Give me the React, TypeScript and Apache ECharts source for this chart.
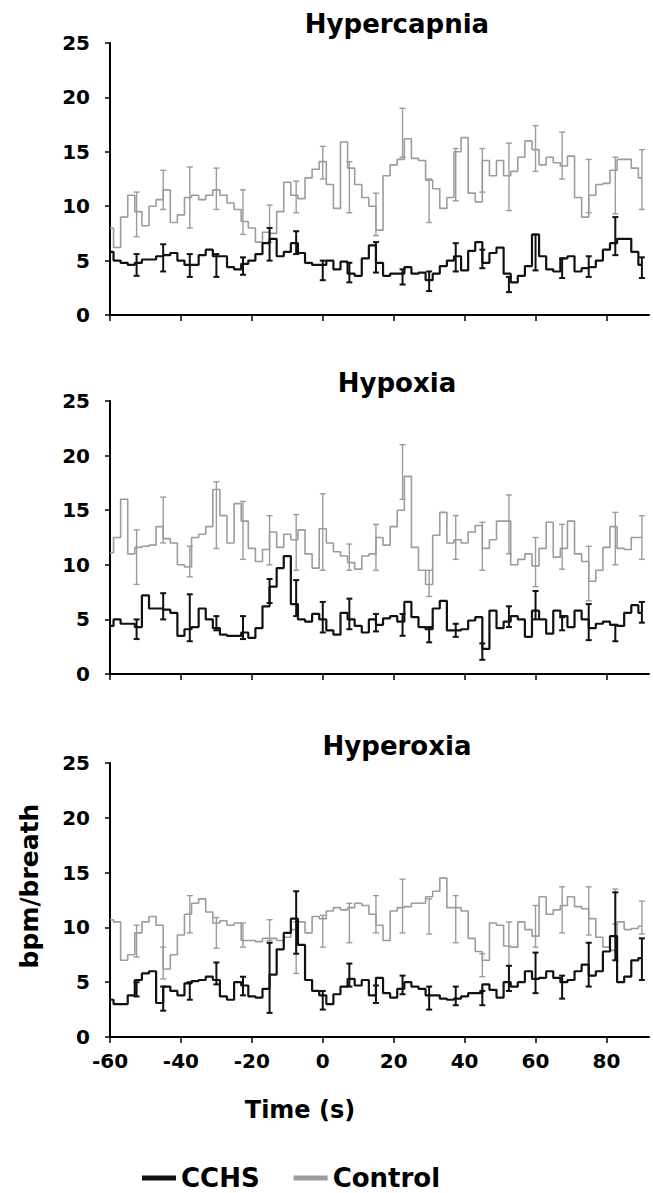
import React, { useEffect, useRef } from "react";
import * as echarts from "echarts";

const TIME = [-60,-58,-56,-54,-52,-50,-48,-46,-44,-42,-40,-38,-36,-34,-32,-30,-28,-26,-24,-22,-20,-18,-16,-14,-12,-10,-8,-6,-4,-2,0,2,4,6,8,10,12,14,16,18,20,22,24,26,28,30,32,34,36,38,40,42,44,46,48,50,52,54,56,58,60,62,64,66,68,70,72,74,76,78,80,82,84,86,88,90];
const X_TICKS = [-60, -40, -20, 0, 20, 40, 60, 80];
const PANEL_TITLES = ["Hypercapnia", "Hypoxia", "Hyperoxia"];

// Hypercapnia
const HC_CTRL = [8.0, 6.2, 9.0, 11.0, 9.5, 8.2, 10.0, 10.6, 11.5, 8.5,
  9.2, 10.8, 11.0, 10.6, 11.0, 11.5, 11.0, 10.3, 9.7, 8.6,
  8.0, 6.7, 7.6, 7.5, 9.5, 12.2, 11.0, 10.7, 12.6, 13.4,
  14.1, 12.0, 9.8, 15.9, 13.5, 12.0, 10.8, 10.0, 7.8, 12.8,
  13.8, 14.3, 16.2, 14.4, 14.2, 12.4, 11.6, 9.8, 10.8, 15.0,
  16.3, 11.2, 10.4, 14.2, 12.8, 14.2, 12.8, 13.2, 14.5, 16.0,
  15.2, 13.8, 14.5, 14.0, 13.7, 14.6, 10.8, 9.0, 11.0, 12.0,
  12.1, 13.3, 14.3, 14.3, 13.5, 12.6];
const HC_CCHS = [5.8, 5.0, 4.8, 4.6, 4.8, 5.1, 5.1, 5.4, 5.5, 5.7,
  5.0, 4.6, 4.6, 5.5, 6.0, 5.4, 5.4, 4.4, 4.2, 4.7,
  5.0, 5.6, 6.6, 7.0, 5.4, 5.8, 6.6, 5.7, 4.8, 4.6,
  4.6, 5.0, 4.2, 4.9, 3.8, 3.6, 5.2, 6.4, 4.8, 3.6,
  3.8, 3.8, 4.4, 3.8, 3.9, 3.2, 3.8, 4.5, 5.0, 5.4,
  4.1, 5.9, 6.7, 4.8, 5.7, 6.2, 3.8, 3.0, 3.6, 4.5,
  7.4, 5.4, 4.2, 4.0, 5.2, 5.4, 4.0, 4.3, 4.4, 5.0,
  6.0, 6.6, 7.0, 7.0, 5.8, 4.6];

// Hypoxia
const HX_CTRL = [11.1, 12.5, 16.0, 11.0, 11.6, 11.7, 11.8, 13.5, 12.4, 12.0,
  10.0, 9.8, 12.5, 12.8, 13.5, 16.9, 14.5, 12.0, 15.6, 14.0,
  11.5, 10.3, 11.4, 13.0, 11.6, 12.8, 12.3, 13.2, 11.0, 9.7,
  13.3, 12.0, 11.2, 10.8, 10.2, 9.6, 10.8, 11.0, 12.5, 11.8,
  13.5, 15.0, 18.1, 11.6, 9.5, 8.2, 12.7, 14.8, 12.0, 12.3,
  12.0, 13.0, 13.6, 11.5, 12.3, 14.0, 14.0, 10.0, 10.5, 11.0,
  9.9, 11.5, 13.9, 10.7, 11.5, 14.0, 11.0, 10.3, 8.5, 9.5,
  11.6, 13.5, 11.5, 11.4, 12.5, 12.5];
const HX_CCHS = [4.4, 5.0, 4.6, 4.6, 4.3, 7.2, 6.0, 6.0, 5.9, 5.6,
  3.5, 4.1, 4.3, 6.0, 5.0, 4.2, 3.6, 3.5, 3.5, 3.8,
  3.3, 4.2, 6.2, 8.0, 9.7, 10.8, 6.4, 5.0, 4.8, 5.5,
  5.0, 4.0, 3.6, 5.6, 5.0, 4.4, 3.8, 5.0, 4.5, 5.1,
  5.3, 4.8, 6.6, 5.2, 4.3, 4.1, 6.0, 6.7, 4.0, 4.0,
  4.1, 4.9, 5.2, 2.3, 5.8, 4.2, 4.8, 5.3, 5.0, 3.4,
  5.8, 5.0, 3.7, 5.8, 5.3, 4.3, 5.8, 5.0, 4.2, 4.6,
  4.8, 4.5, 4.4, 5.6, 6.3, 5.6];

// Hyperoxia
const HO_CTRL = [10.7, 10.5, 7.0, 7.5, 9.5, 10.5, 11.0, 10.2, 6.2, 7.5,
  9.3, 11.2, 12.2, 12.6, 11.4, 10.4, 10.6, 10.2, 10.4, 8.8,
  8.8, 8.7, 9.0, 9.0, 8.8, 9.1, 9.8, 10.5, 9.5, 11.0,
  10.8, 11.5, 11.8, 11.6, 11.8, 12.2, 12.0, 11.2, 10.2, 8.8,
  11.5, 11.8, 11.9, 12.2, 12.2, 12.8, 13.3, 14.5, 11.8, 11.8,
  11.5, 9.0, 7.8, 7.0, 10.4, 10.2, 8.3, 8.2, 10.5, 9.8,
  9.2, 12.8, 11.2, 11.6, 12.0, 12.8, 11.9, 11.7, 10.8, 9.1,
  8.2, 7.9, 10.5, 9.8, 9.9, 10.1];
const HO_CCHS = [3.4, 3.0, 3.0, 3.8, 5.2, 5.8, 6.0, 3.1, 4.6, 4.2,
  3.8, 4.9, 5.1, 5.2, 5.5, 5.2, 3.7, 3.4, 5.0, 4.7,
  3.7, 3.6, 4.4, 5.7, 8.0, 9.5, 10.8, 8.4, 5.2, 4.2,
  3.8, 3.0, 3.9, 4.6, 5.3, 4.7, 5.2, 3.8, 5.4, 4.0,
  3.6, 4.4, 5.0, 4.6, 4.4, 3.8, 3.8, 3.5, 3.4, 3.5,
  3.7, 4.0, 4.0, 4.8, 4.3, 3.6, 5.0, 4.6, 5.0, 6.0,
  5.3, 5.4, 6.0, 5.4, 5.0, 5.2, 6.0, 6.6, 5.6, 6.0,
  7.8, 9.2, 5.0, 5.5, 7.0, 7.2];

// Error bars (time, low, high)
const ERR_T = [-52.5, -45, -37.5, -30, -22.5, -15, -7.5, 0, 7.5, 15, 22.5, 30, 37.5, 45, 52.5, 60, 67.5, 75, 82.5, 90];
const HC_CTRL_LO = [7.2, 9.7, 8.0, 9.7, 7.4, 6.7, 9.4, 12.5, 9.4, 7.3, 14.5, 8.5, 10.5, 11.3, 9.6, 13.2, 12.5, 9.4, 9.3, 9.7];
const HC_CTRL_HI = [11.3, 13.3, 13.6, 13.5, 11.5, 10.1, 12.3, 15.5, 14.1, 11.2, 19.0, 12.5, 15.3, 15.3, 15.8, 17.4, 16.8, 14.3, 14.5, 15.2];
const HC_CCHS_LO = [3.6, 4.0, 3.5, 3.5, 3.7, 5.0, 5.6, 3.2, 3.0, 3.9, 2.8, 2.2, 4.0, 4.3, 2.1, 4.1, 3.4, 3.5, 5.5, 3.4];
const HC_CCHS_HI = [5.6, 6.5, 5.6, 5.6, 5.3, 8.0, 7.7, 5.0, 4.8, 6.7, 4.2, 4.0, 6.6, 6.0, 3.5, 7.4, 5.2, 5.4, 9.0, 5.3];
const HX_CTRL_LO = [8.2, 12.0, 8.9, 11.5, 10.5, 10.0, 9.5, 9.5, 9.5, 9.5, 16.0, 7.1, 10.5, 9.5, 11.0, 8.0, 9.6, 6.7, 10.0, 10.5];
const HX_CTRL_HI = [13.2, 16.2, 11.7, 17.6, 15.8, 14.5, 14.6, 16.5, 11.9, 13.7, 21.0, 9.5, 14.5, 13.9, 16.4, 12.5, 13.7, 11.7, 14.8, 14.5];
const HX_CCHS_LO = [3.2, 5.0, 3.0, 4.0, 3.2, 6.5, 5.3, 3.8, 4.1, 3.9, 3.5, 2.9, 3.4, 1.3, 4.3, 5.0, 4.0, 3.1, 3.0, 4.7];
const HX_CCHS_HI = [5.0, 7.4, 7.3, 5.3, 5.3, 8.7, 8.6, 6.6, 6.9, 5.5, 5.5, 4.3, 4.6, 2.8, 6.2, 7.6, 5.2, 6.4, 4.5, 6.6];
const HO_CTRL_LO = [7.3, 5.3, 9.5, 8.1, 8.2, 8.8, 5.8, 8.2, 8.6, 9.5, 9.5, 9.4, 8.6, 5.5, 6.5, 8.2, 9.5, 9.3, 10.3, 9.4];
const HO_CTRL_HI = [10.2, 8.2, 12.9, 10.9, 10.4, 10.7, 10.5, 11.1, 12.2, 12.9, 14.4, 12.6, 12.9, 7.6, 10.5, 12.0, 13.7, 13.7, 13.5, 12.4];
const HO_CCHS_LO = [3.7, 2.4, 3.4, 4.8, 3.8, 2.2, 7.6, 2.5, 4.6, 3.1, 3.9, 2.5, 2.9, 2.9, 4.2, 4.0, 3.5, 4.6, 7.0, 5.2];
const HO_CCHS_HI = [5.0, 4.6, 5.0, 6.8, 5.5, 8.6, 13.3, 4.2, 6.7, 4.7, 5.6, 4.6, 4.6, 4.2, 6.5, 7.7, 5.6, 8.6, 13.2, 9.0];

const FONT = '"DejaVu Sans", sans-serif';
const GRAY = "#9c9c9c";
const BLACK = "#111111";

const PANELS = [
  { ctrl: HC_CTRL, cchs: HC_CCHS, ctrlLo: HC_CTRL_LO, ctrlHi: HC_CTRL_HI, cchsLo: HC_CCHS_LO, cchsHi: HC_CCHS_HI },
  { ctrl: HX_CTRL, cchs: HX_CCHS, ctrlLo: HX_CTRL_LO, ctrlHi: HX_CTRL_HI, cchsLo: HX_CCHS_LO, cchsHi: HX_CCHS_HI },
  { ctrl: HO_CTRL, cchs: HO_CCHS, ctrlLo: HO_CTRL_LO, ctrlHi: HO_CTRL_HI, cchsLo: HO_CCHS_LO, cchsHi: HO_CCHS_HI },
];

const GRIDS = [
  { left: 110, top: 43, width: 539, height: 272 },
  { left: 110, top: 401, width: 539, height: 273 },
  { left: 110, top: 763, width: 539, height: 274 },
];
const TITLE_Y = [24, 383, 746];

function errRender(color: string, width: number) {
  return (params: any, api: any) => {
    const t = api.value(0);
    const p1 = api.coord([t, api.value(1)]);
    const p2 = api.coord([t, api.value(2)]);
    const w = 3;
    const style = { stroke: color, lineWidth: width };
    return {
      type: "group",
      children: [
        { type: "line", shape: { x1: p1[0], y1: p1[1], x2: p2[0], y2: p2[1] }, style },
        { type: "line", shape: { x1: p1[0] - w, y1: p1[1], x2: p1[0] + w, y2: p1[1] }, style },
        { type: "line", shape: { x1: p2[0] - w, y1: p2[1], x2: p2[0] + w, y2: p2[1] }, style },
      ],
    };
  };
}

export default function App() {
  const ref = useRef<HTMLDivElement>(null);
  useEffect(() => {
    if (!ref.current) return;
    const chart = echarts.init(ref.current, undefined, { renderer: "svg" });
    const series: any[] = [];
    PANELS.forEach((p, i) => {
      series.push({
        type: "line", name: "Control", xAxisIndex: i, yAxisIndex: i,
        data: TIME.map((t, k) => [t, p.ctrl[k]]), step: "middle",
        symbol: "none", showSymbol: false, z: 2,
        lineStyle: { color: GRAY, width: 1.6 }, itemStyle: { color: GRAY },
      });
      series.push({
        type: "custom", xAxisIndex: i, yAxisIndex: i, z: 3,
        data: ERR_T.map((t, k) => [t, p.ctrlLo[k], p.ctrlHi[k]]),
        encode: { x: 0, y: [1, 2] }, renderItem: errRender(GRAY, 1.4),
      });
      series.push({
        type: "line", name: "CCHS", xAxisIndex: i, yAxisIndex: i,
        data: TIME.map((t, k) => [t, p.cchs[k]]), step: "middle",
        symbol: "none", showSymbol: false, z: 4,
        lineStyle: { color: BLACK, width: 2.2 }, itemStyle: { color: BLACK },
      });
      series.push({
        type: "custom", xAxisIndex: i, yAxisIndex: i, z: 5,
        data: ERR_T.map((t, k) => [t, p.cchsLo[k], p.cchsHi[k]]),
        encode: { x: 0, y: [1, 2] }, renderItem: errRender(BLACK, 2),
      });
    });

    const labelStyle = { fontFamily: FONT, fontWeight: "bold", fontSize: 20, color: "#000" };
    const option: any = {
      animation: false,
      backgroundColor: "#ffffff",
      grid: GRIDS,
      xAxis: GRIDS.map((_, i) => ({
        type: "value", gridIndex: i, min: -60, max: 92, interval: 20,
        axisLine: { show: true, onZero: false, lineStyle: { color: "#000", width: 2 } },
        axisTick: { show: true, length: 6, customValues: X_TICKS, lineStyle: { color: "#000", width: 1.5 } },
        axisLabel: { show: i === 2, customValues: X_TICKS, margin: 14, ...labelStyle },
        splitLine: { show: false },
      })),
      yAxis: GRIDS.map((_, i) => ({
        type: "value", gridIndex: i, min: 0, max: 25, interval: 5,
        axisLine: { show: true, onZero: false, lineStyle: { color: "#000", width: 2 } },
        axisTick: { show: true, length: 5, lineStyle: { color: "#000", width: 1.5 } },
        axisLabel: { margin: 20, ...labelStyle },
        splitLine: { show: false },
      })),
      legend: {
        data: ["CCHS", "Control"], left: 137, top: 1160,
        icon: "rect", itemWidth: 34, itemHeight: 5, itemGap: 34,
        textStyle: { fontFamily: FONT, fontWeight: "bold", fontSize: 26, color: "#000" },
      },
      graphic: [
        ...PANEL_TITLES.map((t, i) => ({
          type: "text", x: 397, y: TITLE_Y[i],
          style: { text: t, fontFamily: FONT, fontWeight: "bold", fontSize: 26, fill: "#000", textAlign: "center", textVerticalAlign: "middle" },
        })),
        {
          type: "text", x: 29, y: 886, rotation: Math.PI / 2,
          style: { text: "bpm/breath", fontFamily: FONT, fontWeight: "bold", fontSize: 25, fill: "#000", textAlign: "center", textVerticalAlign: "middle" },
        },
        {
          type: "text", x: 300, y: 1110,
          style: { text: "Time (s)", fontFamily: FONT, fontWeight: "bold", fontSize: 24, fill: "#000", textAlign: "center", textVerticalAlign: "middle" },
        },
      ],
      series,
    };
    chart.setOption(option);
    return () => chart.dispose();
  }, []);
  return <div ref={ref} style={{ position: "absolute", left: 0, top: 0, width: 653, height: 1193 }} />;
}
